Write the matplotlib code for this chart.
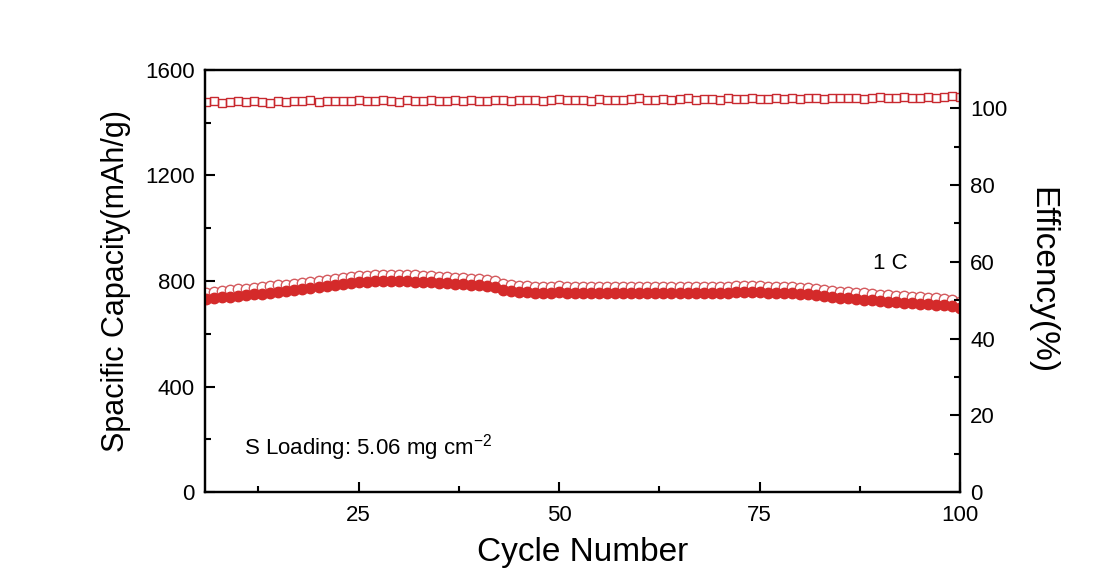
import matplotlib.pyplot as plt
from matplotlib.ticker import MultipleLocator

plt.rcParams['font.family'] = ['Liberation Sans', 'DejaVu Sans']

cycles = list(range(6, 101))

discharge = [732, 735, 738, 741, 744, 747, 750, 752, 755, 758,
             761, 765, 768, 772, 776, 780, 784, 788, 792, 795,
             797, 799, 800, 800, 800, 799, 798, 797, 795, 793,
             791, 789, 787, 785, 783, 781, 778, 766, 762, 759,
             757, 755, 754, 756, 757, 756, 755, 755, 756, 754,
             755, 754, 755, 754, 755, 755, 754, 755, 754, 754,
             755, 754, 755, 755, 756, 756, 757, 758, 758, 757,
             756, 755, 754, 753, 751, 749, 746, 743, 740, 737,
             734, 731, 729, 727, 724, 722, 720, 718, 716, 714,
             712, 710, 708, 704, 697]

charge = [755, 758, 762, 765, 768, 771, 774, 777, 780, 783,
          786, 790, 793, 797, 801, 805, 809, 812, 816, 818,
          820, 822, 823, 823, 823, 822, 821, 820, 818, 816,
          814, 812, 810, 808, 806, 804, 801, 789, 785, 782,
          780, 778, 777, 779, 780, 779, 778, 778, 779, 777,
          778, 777, 778, 777, 778, 778, 777, 778, 777, 777,
          778, 777, 778, 778, 779, 779, 780, 781, 781, 780,
          779, 778, 777, 776, 774, 772, 769, 766, 763, 760,
          757, 755, 753, 751, 748, 746, 744, 742, 740, 738,
          736, 734, 732, 729, 722]

efficiency = [101.6, 101.8, 101.4, 101.7, 101.8, 101.6, 101.9, 101.7, 101.5, 102.0,
              101.6, 101.9, 101.8, 102.1, 101.7, 101.8, 101.9, 102.0, 101.8, 102.1,
              101.9, 101.8, 102.2, 101.9, 101.7, 102.1, 101.9, 102.0, 102.2, 101.8,
              102.0, 102.1, 101.9, 102.2, 102.0, 101.9, 102.3, 102.1, 102.0, 102.2,
              102.1, 102.3, 102.0, 102.2, 102.4, 102.1, 102.2, 102.3, 102.0, 102.5,
              102.2, 102.3, 102.1, 102.4, 102.6, 102.3, 102.2, 102.5, 102.3, 102.4,
              102.6, 102.3, 102.5, 102.4, 102.2, 102.6, 102.4, 102.5, 102.7, 102.4,
              102.5, 102.6, 102.4, 102.7, 102.5, 102.6, 102.8, 102.5, 102.6, 102.8,
              102.6, 102.7, 102.5, 102.8, 102.9, 102.6, 102.7, 102.9, 102.7, 102.8,
              103.0, 102.7, 102.9, 103.1, 103.0]

fig = plt.figure(figsize=(11, 5.83), dpi=100)
ax = fig.add_axes([0.186, 0.156, 0.687, 0.724])
ax2 = ax.twinx()

ax.plot(cycles, charge, 'o', ms=7.5, mfc='white', mec='#d45a5e', mew=1.0, zorder=3)
ax.plot(cycles, discharge, 'o', ms=7.5, color='#d42a2a', mec='#d42a2a', zorder=4)
ax2.plot(cycles, efficiency, 's', ms=6, mfc='none', mec='#c8282e', mew=1.0)

ax.set_xlim(5.8, 100)
ax.set_ylim(0, 1600)
ax2.set_ylim(0, 110)

ax.set_xticks([25, 50, 75, 100])
ax.xaxis.set_minor_locator(MultipleLocator(12.5))
ax.set_yticks([0, 400, 800, 1200, 1600])
ax.yaxis.set_minor_locator(MultipleLocator(200))
ax2.set_yticks([0, 20, 40, 60, 80, 100])
ax2.yaxis.set_minor_locator(MultipleLocator(10))

for a in (ax, ax2):
    a.tick_params(which='major', direction='in', length=7, width=1.5, labelsize=16, pad=7)
    a.tick_params(which='minor', direction='in', length=4, width=1.5)
    for s in a.spines.values():
        s.set_linewidth(1.6)
ax.tick_params(axis='y', right=False)
ax.tick_params(axis='x', top=False, which='both', pad=9)

ax.set_xlabel('Cycle Number', fontsize=24, labelpad=8)
ax.set_ylabel('Spacific Capacity(mAh/g)', fontsize=22, labelpad=10)
ax2.set_ylabel('Efficency(%)', fontsize=24, rotation=270, labelpad=36)

ax.text(91.3, 868, '1 C', fontsize=16, ha='center', va='center')
ax.text(10.7, 170, r'S Loading: 5.06 mg cm$^{\mathregular{-2}}$', fontsize=16,
        ha='left', va='center')

fig.savefig('out.png', dpi=100)
